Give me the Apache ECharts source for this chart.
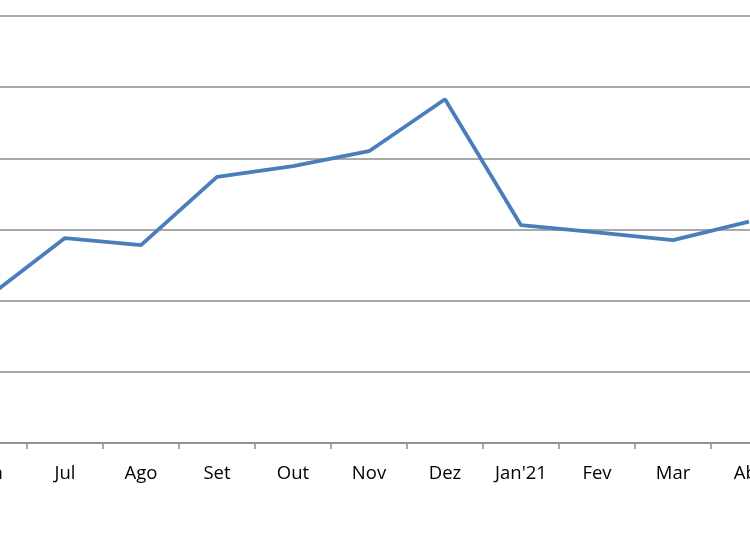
<!DOCTYPE html>
<html><head><meta charset="utf-8">
<script src="https://cdn.jsdelivr.net/npm/echarts@6/dist/echarts.min.js"></script>
<style>html,body{margin:0;padding:0;background:#fff}#c{width:750px;height:536px}</style>
</head><body><div id="c"></div>
<script>
const categories = ["Jun","Jul","Ago","Set","Out","Nov","Dez","Jan'21","Fev","Mar","Abr"];
const values = [2.06, 2.88, 2.78, 3.74, 3.89, 4.10, 4.83, 3.06, 2.96, 2.85, 3.11];
const yMin = 0, yMax = 6, yInterval = 1;

const chart = echarts.init(document.getElementById('c'), null, {renderer:'canvas'});
chart.setOption({
  animation:false,
  backgroundColor:'#fff',
  grid:{left:-49, top:16, width:836, height:427, containLabel:false, outerBoundsMode:'none'},
  xAxis:{type:'category', data:categories, boundaryGap:true,
    axisLine:{lineStyle:{color:'#8c8c8c', width:1.5}},
    axisTick:{show:true, length:6, lineStyle:{color:'#8c8c8c', width:1.5}},
    axisLabel:{color:'#000', fontSize:18.5, fontFamily:'Open Sans', margin:21},
    splitLine:{show:false}},
  yAxis:{type:'value', min:yMin, max:yMax, interval:yInterval,
    axisLine:{show:false}, axisTick:{show:false}, axisLabel:{show:false},
    splitLine:{lineStyle:{color:'#8c8c8c', width:1.5}}},
  series:[{type:'line', data:values, symbol:'none', smooth:false,
    lineStyle:{color:'#4a7ebb', width:3.8}}]
});
</script></body></html>
